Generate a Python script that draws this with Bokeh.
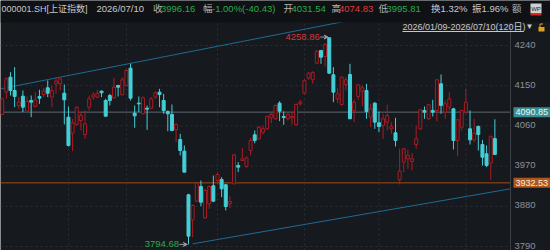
from bokeh.plotting import figure
from bokeh.models import ColumnDataSource, Range1d, Label, Arrow, VeeHead
from bokeh.embed import file_html
from bokeh.resources import INLINE
from bokeh.core.properties import value

# ---------------- data ----------------
opens = [
    4085.6, 4135.6, 4169.1, 4139.3, 4105.7, 4126.6, 4093.0, 4116.9, 4103.5, 4125.9,
    4130.3, 4145.3, 4124.4, 4154.2, 4154.2, 4133.3, 4079.6, 4043.8, 4063.2, 4072.1,
    4040.8, 4102.0, 4124.4, 4124.4, 4137.8, 4116.9, 4128.1, 4122.9, 4150.5, 4129.6,
    4150.5, 4189.3, 4088.5, 4110.9, 4087.1, 4099.7, 4099.7, 4124.4, 4135.6, 4116.9,
    4092.3, 4085.6, 4052.0, 4029.6, 4003.5, 3905.7, 3849.8, 3891.5, 3924.4, 3854.2,
    3885.6, 3925.9, 3937.8, 3940.0, 3928.1, 3885.6, 3930.3, 3971.4, 3982.6, 3969.2,
    4005.0, 4040.0, 4031.1, 4046.0, 4053.5, 4078.1, 4075.9, 4110.9, 4081.1, 4075.9,
    4078.1, 4062.4, 4109.4, 4133.3, 4166.9, 4163.2, 4200.5, 4228.8, 4215.4, 4257.2,
    4174.4, 4120.6, 4107.9, 4152.7, 4175.1, 4094.5, 4125.9, 4137.8, 4139.3, 4079.6,
    4110.9, 4066.9, 4060.9, 4068.4, 4053.5, 4044.5, 3939.3, 3978.9, 3986.3, 3980.3,
    4018.4, 4053.5, 4094.5, 4075.9, 4094.5, 4094.5, 4154.2, 4090.8, 4102.0, 4098.2,
    4027.4, 4057.2, 4090.8, 4053.5, 4028.8, 4058.7, 4018.4, 3997.5, 3976.6, 4031.54]
closes = [
    4120.6, 4165.4, 4139.3, 4125.9, 4113.2, 4102.0, 4114.7, 4113.2, 4118.4, 4122.1,
    4137.8, 4133.3, 4139.3, 4160.2, 4165.4, 4118.4, 4016.2, 4066.9, 4102.0, 4083.3,
    4064.7, 4120.6, 4129.6, 4133.3, 4134.1, 4081.8, 4116.9, 4146.7, 4146.7, 4163.2,
    4184.1, 4122.1, 4082.6, 4109.4, 4122.9, 4097.5, 4120.6, 4134.1, 4130.3, 4094.5,
    4087.1, 4049.7, 4063.2, 4005.0, 3956.5, 3813.2, 3881.8, 3931.8, 3889.3, 3915.4,
    3924.4, 3891.5, 3951.2, 3919.2, 3879.6, 3890.8, 3995.3, 3967.7, 3986.3, 3988.5,
    4027.4, 4027.4, 4057.2, 4053.5, 4081.1, 4085.6, 4105.7, 4093.0, 4078.8, 4085.6,
    4081.1, 4107.9, 4113.2, 4161.7, 4178.1, 4179.6, 4227.3, 4213.9, 4242.3, 4178.1,
    4135.6, 4131.8, 4169.1, 4163.2, 4075.9, 4113.2, 4152.0, 4145.3, 4092.3, 4098.2,
    4068.4, 4058.7, 4075.9, 4083.3, 4058.7, 4027.4, 3958.7, 4008.7, 3993.8, 3986.3,
    4031.1, 4096.0, 4090.8, 4107.2, 4090.8, 4163.2, 4105.7, 4109.4, 4120.6, 4027.4,
    4073.6, 4094.5, 4113.2, 4028.8, 4043.8, 4040.8, 3990.0, 3971.4, 4036.59, 3996.16]
highs = [
    4121.5, 4169.1, 4180.3, 4191.5, 4124.4, 4139.3, 4125.9, 4128.1, 4135.6, 4140.8,
    4145.3, 4161.7, 4150.5, 4169.1, 4169.1, 4152.7, 4103.5, 4075.9, 4103.5, 4090.8,
    4094.5, 4128.1, 4135.6, 4140.8, 4139.3, 4120.6, 4131.8, 4167.6, 4152.0, 4169.1,
    4187.8, 4199.0, 4105.7, 4125.9, 4125.9, 4105.7, 4124.4, 4137.0, 4143.0, 4131.8,
    4094.5, 4107.9, 4066.2, 4042.3, 4016.2, 3908.0, 3884.1, 3934.1, 3937.8, 3919.2,
    3926.6, 3949.0, 3956.5, 3945.3, 3930.3, 3902.0, 3997.5, 3978.9, 4010.9, 3991.5,
    4033.3, 4049.7, 4059.4, 4060.9, 4083.3, 4088.5, 4107.9, 4115.4, 4092.3, 4088.5,
    4090.8, 4110.9, 4118.4, 4165.4, 4180.3, 4182.6, 4230.3, 4230.3, 4245.2, 4258.86,
    4191.5, 4145.3, 4170.6, 4169.1, 4199.0, 4118.4, 4152.7, 4150.5, 4154.2, 4109.4,
    4113.2, 4092.3, 4087.1, 4107.9, 4068.4, 4078.1, 4008.7, 4010.9, 4006.5, 3999.0,
    4060.9, 4098.2, 4103.5, 4109.4, 4118.4, 4165.4, 4175.1, 4116.9, 4135.6, 4100.5,
    4075.9, 4096.0, 4143.0, 4094.5, 4075.9, 4060.9, 4028.8, 4016.2, 4038.3, 4074.83]
lows = [
    4084.5, 4120.6, 4128.1, 4102.0, 4098.2, 4090.8, 4090.8, 4079.6, 4102.0, 4109.4,
    4124.4, 4124.4, 4102.0, 4131.8, 4139.3, 4063.2, 4013.9, 4003.5, 4060.9, 4049.7,
    4031.1, 4094.5, 4118.4, 4122.9, 4124.4, 4081.1, 4105.7, 4120.6, 4125.9, 4128.1,
    4148.2, 4116.9, 4055.7, 4090.8, 4085.6, 4051.2, 4098.2, 4120.6, 4102.0, 4087.1,
    4048.2, 4048.2, 4023.6, 3993.8, 3956.5, 3794.68, 3811.0, 3889.3, 3880.3, 3852.0,
    3874.4, 3889.3, 3930.3, 3900.5, 3870.6, 3876.6, 3928.9, 3956.5, 3981.1, 3966.2,
    3993.8, 4021.4, 4028.8, 4040.8, 4051.2, 4066.2, 4073.6, 4070.6, 4062.4, 4072.1,
    4063.2, 4060.9, 4105.7, 4130.3, 4163.2, 4154.2, 4199.0, 4199.0, 4193.0, 4176.6,
    4113.2, 4110.9, 4105.7, 4139.3, 4075.9, 4068.4, 4118.4, 4103.5, 4075.9, 4057.2,
    4053.5, 4046.0, 4031.1, 4049.7, 4042.3, 4013.9, 3928.9, 3956.5, 3963.9, 3960.2,
    4008.7, 4051.2, 4075.9, 4073.6, 4081.1, 4070.6, 4087.1, 4075.9, 4094.5, 4007.2,
    3992.3, 4049.7, 4087.1, 4018.4, 4023.6, 4005.0, 3971.4, 3967.7, 3939.3, 3995.81]

y_ticks = [3790, 3880, 3970, 4060, 4150, 4240]
month_start_idx = [16, 30, 52, 73, 91, 112]
ref_teal = 4090.85
ref_orange = 3932.53
upper_trend_x = [-0.4, 90.0]
upper_trend_y = [4143.0, 4307.2]
lower_trend_x = [46.0, 122.8]
lower_trend_y = [3796.0, 3919.2]
max_idx, max_val = 79, 4258.86
min_idx, min_val = 45, 3794.68

code_name = "000001.SH[上证指数]"
date_str = "2026/07/10"
pct_chg = -1.00
abs_chg = -40.43
turnover = 1.32
amplitude = 1.96
range_str = "2026/01/09-2026/07/10(120日)"

assert len(opens) == len(closes) == len(highs) == len(lows) == 120

# ---------------- layout helpers (pixel position -> data coordinate) ----------------
W, H = 550, 250
STEP_PX, OFF_PX = 4.14, 1.7           # candle spacing / first candle offset
PX_PER_PT, Y_REF, Y_REF_PX = 0.4467, 4240.0, 45.0


def px2x(px):
    return (px - OFF_PX) / STEP_PX


def py2y(py):
    return Y_REF - (py - Y_REF_PX) / PX_PER_PT


X0, X1 = px2x(0), px2x(W)
Y0, Y1 = py2y(H), py2y(0)
XR = px2x(510)          # right edge of the chart area (price axis line)
YC = py2y(22)           # top of the chart area (below the header bar)

# ---------------- style ----------------
FONT = "Liberation Sans, Noto Sans CJK SC"
BG = "#161a1f"
HBG = "#0f1115"
RED = "#ad1a22"
CYAN = "#44cfd7"
GRID = "#2c3037"
GREEN = "#27ad48"
TXT = "#c8c8c8"
LBL = "#b4b4b4"
TREND = "#1f6a92"

n = len(opens)
idx = list(range(n))
up = [c >= o for o, c in zip(opens, closes)]
src = ColumnDataSource(dict(
    x=idx, h=highs, l=lows,
    top=[max(o, c) for o, c in zip(opens, closes)],
    bot=[min(o, c) for o, c in zip(opens, closes)],
    col=[RED if u else CYAN for u in up],
    fill=[BG if u else CYAN for u in up],
))

p = figure(width=W, height=H, x_range=Range1d(X0, X1), y_range=Range1d(Y0, Y1),
           output_backend="svg", toolbar_location=None, x_axis_location=None, y_axis_location=None,
           min_border=0, background_fill_color=BG, border_fill_color=BG, outline_line_color=None)
p.grid.visible = False

# grid lines (dashed)
p.segment(x0=[X0] * len(y_ticks), y0=y_ticks, x1=[XR] * len(y_ticks), y1=y_ticks,
          line_color=GRID, line_dash="2 3", line_width=1)
p.segment(x0=month_start_idx, y0=[Y0] * len(month_start_idx), x1=month_start_idx,
          y1=[YC] * len(month_start_idx), line_color=GRID, line_dash="2 3", line_width=1)

# trend lines
p.line(upper_trend_x, upper_trend_y, line_color=TREND, line_width=1)
p.line(lower_trend_x, lower_trend_y, line_color=TREND, line_width=1)

# reference price lines
p.segment(x0=[X0, X0], y0=[ref_teal, ref_orange], x1=[XR, XR], y1=[ref_teal, ref_orange],
          line_color=["#5b6a70", "#a24a16"], line_width=1)

# price axis line
p.segment(x0=[XR], y0=[Y0], x1=[XR], y1=[YC], line_color="#3a3e45", line_width=1)

# candles
p.segment(x0="x", y0="l", x1="x", y1="h", line_color="col", line_width=1, source=src)
p.vbar(x="x", width=0.72, top="top", bottom="bot", fill_color="fill", line_color="col",
       line_width=1, source=src)

# max / min markers
p.text(x=[max_idx - 2.3], y=[max_val], text=[f"{max_val:.2f}"], text_align="right",
       text_baseline="middle", text_color="#d8343a", text_font=value(FONT), text_font_size="9.5px")
p.text(x=[min_idx - 2.3], y=[min_val], text=[f"{min_val:.2f}"], text_align="right",
       text_baseline="middle", text_color=GREEN, text_font=value(FONT), text_font_size="9.5px")
for i_, v_ in ((max_idx, max_val), (min_idx, min_val)):
    p.add_layout(Arrow(x_start=i_ - 2.2, y_start=v_, x_end=i_ - 0.3, y_end=v_,
                       line_color="#9a9ea4", line_width=1,
                       end=VeeHead(size=4, line_color="#9a9ea4", fill_color="#9a9ea4")))

# price tick labels
p.text(x=[px2x(514)] * len(y_ticks), y=y_ticks, text=[str(t) for t in y_ticks],
       text_baseline="middle", text_color="#8c9097", text_font=value(FONT),
       text_font_size="9.5px", y_offset=-1)

# header bar
p.quad(left=[X0], right=[X1], bottom=[YC], top=[Y1], fill_color=HBG, line_color=None)

hx = [1, 96, 152.5, 160.5, 202.5, 211.5, 283, 291, 331, 338.5, 378, 386, 430.5, 471.5, 511.5]
htext = [code_name, date_str, "收", f"{closes[-1]:.2f}", "幅", f"{pct_chg:.2f}%({abs_chg:.2f})",
         "开", f"{opens[-1]:.2f}", "高", f"{highs[-1]:.2f}", "低", f"{lows[-1]:.2f}",
         f"换{turnover:.2f}%", f"振{amplitude:.2f}%", "额"]
hcol = [TXT, TXT, LBL, GREEN, LBL, GREEN, LBL, GREEN, LBL, "#e03a3a",
        LBL, GREEN, TXT, TXT, LBL]
hsize = ["9px"] + ["9.5px"] * (len(hx) - 1)
p.text(x=[px2x(v) for v in hx], y=[py2y(8)] * len(hx), text=htext, text_color=hcol,
       text_baseline="middle", text_font=value(FONT), text_font_size=hsize)
# small toolbar icon at the top right
p.quad(left=[px2x(530)], right=[px2x(541)], bottom=[py2y(13)], top=[py2y(3)],
       fill_color="#d0d0d0", line_color=None)
p.quad(left=[px2x(530)], right=[px2x(541)], bottom=[py2y(15)], top=[py2y(13)],
       fill_color="#d02020", line_color=None)
p.text(x=[px2x(535.5)], y=[py2y(8)], text=["WP"], text_align="center", text_baseline="middle",
       text_color="#222222", text_font=value(FONT), text_font_size="6px")

# date range caption with underline, dropdown mark and lock
p.text(x=[px2x(402)], y=[py2y(26)], text=[range_str], text_baseline="middle",
       text_color=TXT, text_font=value(FONT), text_font_size="9px")
p.segment(x0=[px2x(402)], y0=[py2y(31)], x1=[px2x(523)], y1=[py2y(31)], line_color=TXT,
          line_width=1)
p.text(x=[px2x(525)], y=[py2y(26)], text=["▼"], text_baseline="middle",
       text_color=TXT, text_font=value(FONT), text_font_size="8px")
p.quad(left=[px2x(538)], right=[px2x(544)], bottom=[py2y(31)], top=[py2y(26.5)],
       fill_color="#e0a020", line_color=None)
p.segment(x0=[px2x(539.5)], y0=[py2y(26.5)], x1=[px2x(539.5)], y1=[py2y(23.5)],
          line_color="#e0a020", line_width=1)
p.segment(x0=[px2x(539.5)], y0=[py2y(23.5)], x1=[px2x(542.5)], y1=[py2y(23.5)],
          line_color="#e0a020", line_width=1)

# value boxes on the price axis
p.add_layout(Label(x=px2x(513), y=ref_teal, text=f"{ref_teal:.2f}", text_baseline="middle",
                   text_font=FONT, text_font_size="9px", text_color="#f0f8f8",
                   background_fill_color="#3a8d90", padding=2))
p.add_layout(Label(x=px2x(513), y=ref_orange, text=f"{ref_orange:.2f}", text_baseline="middle",
                   text_font=FONT, text_font_size="9px", text_color="#f8ece0",
                   background_fill_color="#b0561c", padding=2))

open("out.html", "w").write(file_html(p, INLINE))
